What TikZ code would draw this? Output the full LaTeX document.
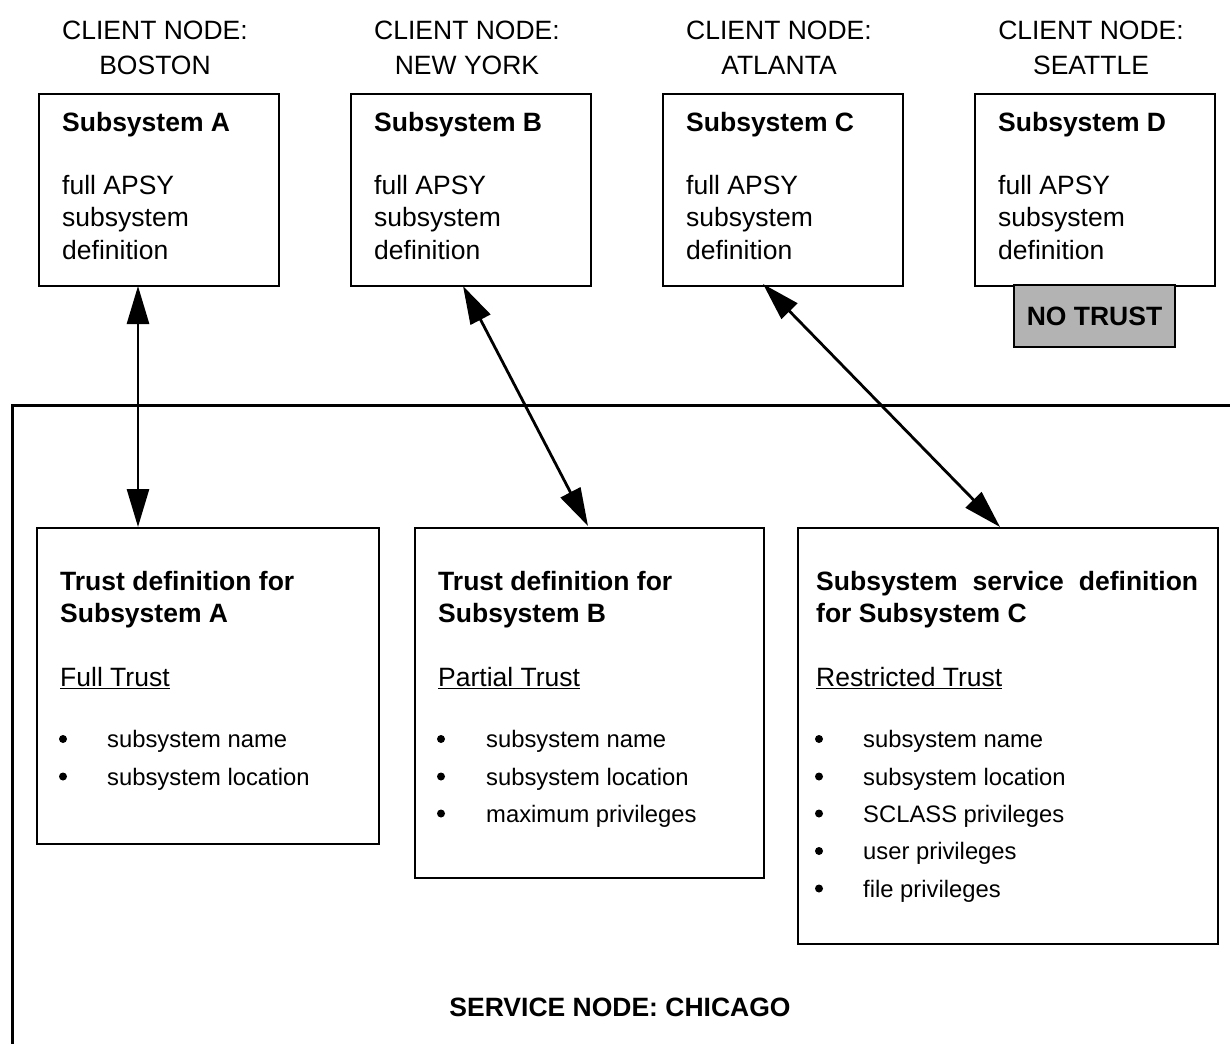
\documentclass[tikz,border=0pt]{standalone}
\usepackage{fontspec}
\setmainfont{Liberation Sans}
\usetikzlibrary{arrows.meta}
\definecolor{notrust}{RGB}{179,179,179}
\newcommand{\fbig}{\fontsize{26.5}{32.5}\selectfont}
\newcommand{\fsmall}{\fontsize{23.8}{37.3}\selectfont}
\begin{document}
\begin{tikzpicture}[x=1pt,y=-1pt,
  box/.style={draw, line width=2pt, inner sep=0pt, anchor=north west},
  txt/.style={anchor=base west, inner sep=0pt, font=\fbig},
  btxt/.style={anchor=base west, inner sep=0pt, font=\fbig\bfseries},
  ctr/.style={anchor=base, inner sep=0pt, font=\fbig},
  item/.style={anchor=base west, inner sep=0pt, font=\fsmall},
  bul/.style={circle, fill=black, inner sep=0pt, minimum size=8pt},
  link/.style={line width=2.8pt, {Triangle[length=38pt,width=22pt]}-{Triangle[length=38pt,width=22pt]}},
  frameline/.style={line width=3pt}]
\useasboundingbox (0,0) rectangle (1230,1043);
\fill[white] (0,0) rectangle (1230,1043);

% client labels
\node[ctr] (lA1) at (155,39.5) {CLIENT NODE:};
\node[ctr] (lA2) at (155,74.5) {BOSTON};
\node[ctr] (lB1) at (467,39.5) {CLIENT NODE:};
\node[ctr] (lB2) at (467,74.5) {NEW YORK};
\node[ctr] (lC1) at (779,39.5) {CLIENT NODE:};
\node[ctr] (lC2) at (779,74.5) {ATLANTA};
\node[ctr] (lD1) at (1091,39.5) {CLIENT NODE:};
\node[ctr] (lD2) at (1091,74.5) {SEATTLE};

% top boxes
\node[box, minimum width=240pt, minimum height=192pt] (sA) at (38,93) {};
\node[box, minimum width=240pt, minimum height=192pt] (sB) at (350,93) {};
\node[box, minimum width=240pt, minimum height=192pt] (sC) at (662,93) {};
\node[box, minimum width=240pt, minimum height=192pt] (sD) at (974,93) {};

\foreach \x/\L/\n in {62/A/a,374/B/b,686/C/c,998/D/d}{
  \node[btxt] (h\n) at (\x,131.5) {Subsystem \L};
  \node[txt] (f\n) at (\x,194) {full APSY};
  \node[txt] (s\n) at (\x,226.5) {subsystem};
  \node[txt] (d\n) at (\x,259) {definition};
}

% no trust
\node[draw, line width=2pt, fill=notrust, minimum width=161pt, minimum height=62pt,
      inner sep=0pt, anchor=north west, font=\fbig\bfseries] (nt) at (1013,284) {NO TRUST};

% service frame
\draw[frameline] (1232,405) -- (12,405) -- (12,1045);

% bottom boxes
\node[box, minimum width=342pt, minimum height=316pt] (tA) at (36,527) {};
\node[box, minimum width=349pt, minimum height=350pt] (tB) at (414,527) {};
\node[box, minimum width=420pt, minimum height=416pt] (tC) at (797,527) {};

% box 1
\node[btxt] (t1a) at (60,590) {Trust definition for};
\node[btxt] (t1b) at (60,622.5) {Subsystem A};
\node[txt] (t1c) at (60,686.5) {\underline{Full Trust}};
\node[bul] (b1a) at (63,739) {};
\node[item] (i1a) at (107,747.5) {subsystem name};
\node[bul] (b1b) at (63,776.5) {};
\node[item] (i1b) at (107,785) {subsystem location};

% box 2
\node[btxt] (t2a) at (438,590) {Trust definition for};
\node[btxt] (t2b) at (438,622.5) {Subsystem B};
\node[txt] (t2c) at (438,686.5) {\underline{Partial Trust}};
\node[bul] (b2a) at (441,739) {};
\node[item] (i2a) at (486,747.5) {subsystem name};
\node[bul] (b2b) at (441,776.5) {};
\node[item] (i2b) at (486,785) {subsystem location};
\node[bul] (b2c) at (441,813.5) {};
\node[item] (i2c) at (486,822) {maximum privileges};

% box 3
\node[btxt] (t3a) at (816,590) {\hbox to 382pt{Subsystem\hfil service\hfil definition}};
\node[btxt] (t3b) at (816,622.5) {for Subsystem C};
\node[txt] (t3c) at (816,686.5) {\underline{Restricted Trust}};
\node[bul] (b3a) at (819,739) {};
\node[item] (i3a) at (863,747.5) {subsystem name};
\node[bul] (b3b) at (819,776.5) {};
\node[item] (i3b) at (863,785) {subsystem location};
\node[bul] (b3c) at (819,813.5) {};
\node[item] (i3c) at (863,822) {SCLASS privileges};
\node[bul] (b3d) at (819,851) {};
\node[item] (i3d) at (863,859.5) {user privileges};
\node[bul] (b3e) at (819,888.5) {};
\node[item] (i3e) at (863,897) {file privileges};

% service node label
\node[ctr, font=\fbig\bfseries] (svc) at (620,1016.5) {SERVICE NODE: CHICAGO};

% connectors
\coordinate (pA) at (138,286);
\coordinate (qA) at (138,527);
\coordinate (pB) at (463,286);
\coordinate (qB) at (588,526);
\coordinate (pC) at (763,284);
\coordinate (qC) at (1000,527);
\draw[link] (pA) -- (qA);
\draw[link] (pB) -- (qB);
\draw[link] (pC) -- (qC);
\end{tikzpicture}
\end{document}
